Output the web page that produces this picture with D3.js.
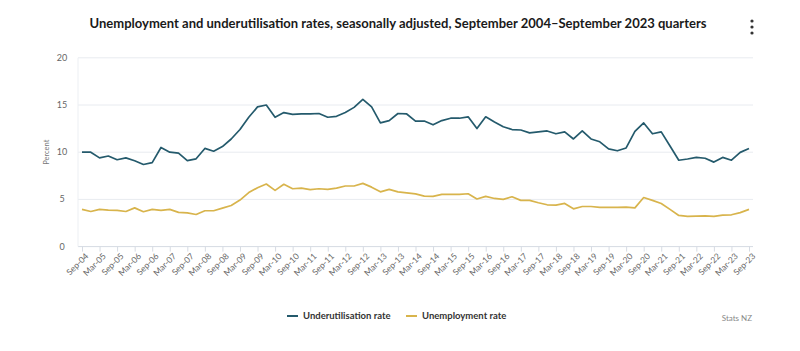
<!DOCTYPE html>
<html>
<head>
<meta charset="utf-8">
<script src="https://cdn.jsdelivr.net/npm/d3@7"></script>
<style>
  body { margin: 0; background: #fff; }
  svg { display: block; font-family: Lato, "Open Sans", sans-serif; }
</style>
</head>
<body>
<svg id="chart"></svg>
<script>
const quarters = [
  "Sep-04","Dec-04","Mar-05","Jun-05","Sep-05","Dec-05","Mar-06","Jun-06","Sep-06","Dec-06",
  "Mar-07","Jun-07","Sep-07","Dec-07","Mar-08","Jun-08","Sep-08","Dec-08","Mar-09","Jun-09",
  "Sep-09","Dec-09","Mar-10","Jun-10","Sep-10","Dec-10","Mar-11","Jun-11","Sep-11","Dec-11",
  "Mar-12","Jun-12","Sep-12","Dec-12","Mar-13","Jun-13","Sep-13","Dec-13","Mar-14","Jun-14",
  "Sep-14","Dec-14","Mar-15","Jun-15","Sep-15","Dec-15","Mar-16","Jun-16","Sep-16","Dec-16",
  "Mar-17","Jun-17","Sep-17","Dec-17","Mar-18","Jun-18","Sep-18","Dec-18","Mar-19","Jun-19",
  "Sep-19","Dec-19","Mar-20","Jun-20","Sep-20","Dec-20","Mar-21","Jun-21","Sep-21","Dec-21",
  "Mar-22","Jun-22","Sep-22","Dec-22","Mar-23","Jun-23","Sep-23"
];

const underutilisation = [
  10.0, 10.0, 9.4, 9.6, 9.2, 9.4, 9.1, 8.7, 8.9, 10.5,
  10.0, 9.9, 9.1, 9.3, 10.4, 10.1, 10.6, 11.4, 12.4, 13.7,
  14.8, 15.0, 13.7, 14.2, 14.0, 14.05, 14.05, 14.1, 13.7, 13.8,
  14.2, 14.75, 15.6, 14.8, 13.1, 13.35, 14.1, 14.05, 13.3, 13.3,
  12.9, 13.35, 13.6, 13.6, 13.75, 12.5, 13.75, 13.2, 12.7, 12.4,
  12.35, 12.05, 12.15, 12.25, 11.95, 12.15, 11.4, 12.25, 11.4, 11.1,
  10.35, 10.15, 10.45, 12.2, 13.1, 11.95, 12.15, 10.65, 9.15, 9.28,
  9.45, 9.36, 8.95, 9.45, 9.15, 9.98, 10.4
];

const unemployment = [
  3.94, 3.72, 3.94, 3.87, 3.83, 3.72, 4.1, 3.69, 3.94, 3.83,
  3.94, 3.62, 3.58, 3.4, 3.8, 3.8, 4.08, 4.36, 4.93, 5.72,
  6.24, 6.63, 5.96, 6.6, 6.13, 6.2, 6.03, 6.13, 6.06, 6.2,
  6.42, 6.42, 6.7, 6.3, 5.8, 6.06, 5.8, 5.7, 5.58, 5.35,
  5.32, 5.53, 5.53, 5.53, 5.6, 5.04, 5.32, 5.1, 5.0, 5.28,
  4.9, 4.9, 4.65, 4.43, 4.4, 4.57, 4.0, 4.25, 4.25, 4.15,
  4.15, 4.15, 4.18, 4.1, 5.2, 4.9, 4.57, 3.94, 3.3, 3.2,
  3.23, 3.26, 3.2, 3.33, 3.37, 3.6, 3.94
];

const tickLabels = quarters.filter((q, i) => i % 2 === 0);
const yTicks = [0, 5, 10, 15, 20];

const series = [
  { name: "Underutilisation rate", values: underutilisation, color: "#245a6c" },
  { name: "Unemployment rate", values: unemployment, color: "#d8b44c" }
];

const width = 800, height = 351;
const plot = { left: 78, right: 753, top: 57.8, bottom: 246.6 };

const svg = d3.select("#chart")
  .attr("width", width)
  .attr("height", height);

// title
const title = svg.append("text")
  .attr("x", 398)
  .attr("y", 28)
  .attr("text-anchor", "middle")
  .style("font-size", "13.5px")
  .style("font-weight", "700")
  .style("fill", "#1a1a1a")
  .text("Unemployment and underutilisation rates, seasonally adjusted, September 2004\u2013September 2023 quarters");
title.attr("textLength", 617).attr("lengthAdjust", "spacingAndGlyphs");

// menu dots
[21, 27, 33].forEach(cy => {
  svg.append("circle").attr("cx", 752).attr("cy", cy).attr("r", 1.6).style("fill", "#333");
});

const x = d3.scalePoint()
  .domain(quarters)
  .range([82, 749]);

const y = d3.scaleLinear()
  .domain([0, 20])
  .range([plot.bottom, plot.top]);

// gridlines
svg.append("g")
  .selectAll("line")
  .data(yTicks)
  .enter()
  .append("line")
  .attr("x1", plot.left)
  .attr("x2", plot.right)
  .attr("y1", d => y(d))
  .attr("y2", d => y(d))
  .style("stroke", d => d === 0 ? "#d6dbe3" : "#e8ebf0")
  .style("stroke-width", 1);

svg.append("line")
  .attr("x1", plot.left).attr("x2", plot.left)
  .attr("y1", plot.top).attr("y2", plot.bottom)
  .style("stroke", "#eceff3");

// y labels
svg.append("g")
  .selectAll("text")
  .data(yTicks)
  .enter()
  .append("text")
  .attr("x", 62)
  .attr("y", d => y(d) + 3)
  .attr("text-anchor", "middle")
  .style("font-size", "9px")
  .style("fill", "#666")
  .text(d => d);

svg.append("text")
  .attr("transform", `translate(49,${(plot.top + plot.bottom) / 2}) rotate(-90)`)
  .attr("text-anchor", "middle")
  .style("font-size", "7.5px")
  .style("fill", "#777")
  .text("Percent");

// x axis
const xAxis = d3.axisBottom(x)
  .tickValues(tickLabels)
  .tickSize(5)
  .tickPadding(3);

const gx = svg.append("g")
  .attr("transform", `translate(0,${plot.bottom})`)
  .call(xAxis);
gx.select(".domain").remove();
gx.selectAll(".tick line").style("stroke", "#d6dbe3");
gx.selectAll(".tick text")
  .attr("text-anchor", "end")
  .attr("dx", "-0.3em")
  .attr("dy", "0.45em")
  .attr("transform", "rotate(-45)")
  .style("font-family", "Lato, sans-serif")
  .style("font-size", "8.5px")
  .style("fill", "#666");

// lines
const line = d3.line()
  .x((d, i) => x(quarters[i]))
  .y(d => y(d));

svg.append("g")
  .selectAll("path")
  .data(series)
  .enter()
  .append("path")
  .attr("d", d => line(d.values))
  .style("fill", "none")
  .style("stroke", d => d.color)
  .style("stroke-width", 1.7)
  .style("stroke-linejoin", "round");

// legend
const legendX = [287, 406];
const legend = svg.append("g").attr("transform", "translate(0,316)");
series.forEach((s, i) => {
  legend.append("line")
    .attr("x1", legendX[i]).attr("x2", legendX[i] + 11)
    .attr("y1", 0).attr("y2", 0)
    .style("stroke", s.color)
    .style("stroke-width", 2);
  legend.append("text")
    .attr("x", legendX[i] + 16)
    .attr("y", 3.2)
    .style("font-size", "9.5px")
    .style("font-weight", "700")
    .style("fill", "#333")
    .text(s.name);
});

svg.append("text")
  .attr("x", 752)
  .attr("y", 321)
  .attr("text-anchor", "end")
  .style("font-size", "8px")
  .style("fill", "#888")
  .text("Stats NZ");
</script>
</body>
</html>
